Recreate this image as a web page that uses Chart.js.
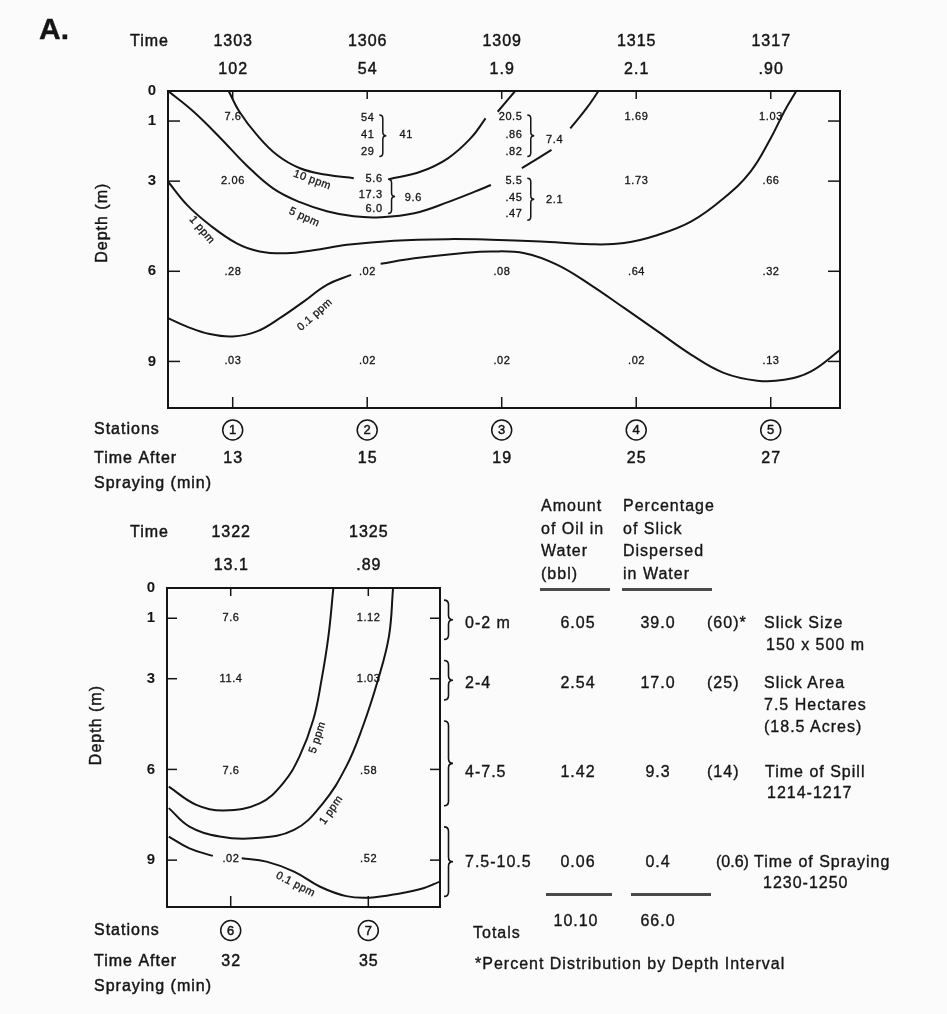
<!DOCTYPE html>
<html lang="en">
<head>
  <meta charset="UTF-8">
  <title>Dispersed oil concentrations by station and depth</title>
  <script src="https://cdn.jsdelivr.net/npm/chart.js"></script>
  <style>
    * { margin:0; padding:0; box-sizing:border-box; }
    html,body { width:947px; height:1014px; overflow:hidden; background:#fbfbfb; }
    canvas { position:absolute; left:0; top:0; }
    .t {
      position:absolute; white-space:nowrap; line-height:1;
      font:16px "Liberation Sans", Arial, sans-serif; letter-spacing:1px; color:#151515;
      -webkit-text-stroke:0.35px #151515;
    }
    .rule { position:absolute; height:3px; background:#4a4a4a; }
  </style>
</head>
<body>
  <canvas id="top" width="947" height="1014"></canvas>
  <canvas id="bottom" width="947" height="1014"></canvas>

  <script>
    // ---- data ----
    const depthTicks = [0, 1, 3, 6, 9];

    // upper panel, stations 1-5
    const topStations = [1, 2, 3, 4, 5];
    const topTimes = ['1303', '1306', '1309', '1315', '1317'];
    const topSurface = ['102', '54', '1.9', '2.1', '.90'];
    const topMinutes = ['13', '15', '19', '25', '27'];
    const topAt1 = ['7.6', '', '', '1.69', '1.03'];
    const topAt3 = ['2.06', '', '', '1.73', '.66'];
    const topAt6 = ['.28', '.02', '.08', '.64', '.32'];
    const topAt9 = ['.03', '.02', '.02', '.02', '.13'];
    const st2Upper = ['54', '41', '29'];
    const st2Lower = ['5.6', '17.3', '6.0'];
    const st3Upper = ['20.5', '.86', '.82'];
    const st3Lower = ['5.5', '.45', '.47'];
    const stackTotals = ['41', '9.6', '7.4', '2.1'];

    // contours (x = station, y = depth m), null = break in the line
    const top10x = [0.97, 1.05, 1.18, 1.33, 1.5, 1.7, 1.9, 2.0, 2.16, 2.4, 2.6, 2.77, 2.88, 2.92, 2.97, 3.1];
    const top10y = [0, 0.69, 1.46, 2.13, 2.57, 2.79, 2.9, null, 2.94, 2.68, 2.24, 1.57, 0.91, null, 0.69, 0];
    const top5x = [0.52, 0.71, 0.91, 1.1, 1.3, 1.5, 1.7, 1.9, 2.1, 2.35, 2.6, 2.8, 2.92, 3.0, 3.15, 3.37, 3.44, 3.51, 3.63, 3.72];
    const top5y = [0, 0.69, 1.57, 2.46, 3.24, 3.7, 4.0, 4.17, 4.2, 4.07, 3.7, 3.35, 3.13, null, 2.57, 1.96, null, 1.24, 0.58, 0];
    const top1x = [0.52, 0.66, 0.83, 1.03, 1.2, 1.4, 1.6, 1.85, 2.2, 2.6, 2.92, 3.29, 3.66, 3.91, 4.16, 4.41, 4.65, 4.85, 5.0, 5.1, 5.19];
    const top1y = [3.02, 3.79, 4.46, 5.07, 5.34, 5.4, 5.3, 5.12, 4.98, 4.93, 4.95, 5.01, 5.1, 5.06, 4.79, 4.34, 3.57, 2.68, 1.57, 0.69, 0];
    const top01x = [0.52, 0.66, 0.83, 1.0, 1.18, 1.35, 1.53, 1.7, 1.88, 1.99, 2.1, 2.35, 2.7, 2.92, 3.17, 3.41, 3.66, 3.91, 4.16, 4.41, 4.65, 4.9, 5.1, 5.3, 5.52];
    const top01y = [7.56, 7.84, 8.09, 8.17, 8.0, 7.56, 7.0, 6.45, 6.12, null, 5.75, 5.57, 5.4, 5.34, 5.4, 5.78, 6.45, 7.22, 8.0, 8.78, 9.38, 9.64, 9.61, 9.33, 8.6];

    // lower panel, stations 6-7
    const botStations = [6, 7];
    const botTimes = ['1322', '1325'];
    const botSurface = ['13.1', '.89'];
    const botMinutes = ['32', '35'];
    const botAt1 = ['7.6', '1.12'];
    const botAt3 = ['11.4', '1.03'];
    const botAt6 = ['7.6', '.58'];
    const botAt9 = ['.02', '.52'];
    const bot5x = [5.55, 5.75, 5.95, 6.21, 6.38, 6.5, 6.6, 6.66, 6.71, 6.746];
    const bot5y = [6.57, 7.17, 7.36, 7.12, 6.46, 5.57, 4.36, 3.04, 1.6, 0];
    const bot1x = [5.55, 5.7, 5.92, 6.16, 6.46, 6.67, 6.84, 6.96, 7.07, 7.15, 7.18];
    const bot1y = [7.28, 7.89, 8.22, 8.28, 8.0, 7.12, 5.9, 4.58, 3.04, 1.6, 0];
    const bot01x = [5.55, 5.7, 5.87, 5.95, 6.08, 6.26, 6.46, 6.65, 6.84, 7.01, 7.23, 7.4, 7.52];
    const bot01y = [8.22, 8.61, 8.86, null, 8.94, 9.05, 9.38, 9.88, 10.19, 10.24, 10.1, 9.93, 9.71];

    // table to the right of the lower panel
    const intervals = ['0-2 m', '2-4', '4-7.5', '7.5-10.5'];
    const intervalEdges = [[0, 2], [2, 4], [4, 7.5], [7.5, 10.5]];
    const oilBbl = ['6.05', '2.54', '1.42', '0.06'];
    const pctSlick = ['39.0', '17.0', '9.3', '0.4'];
    const pctDist = ['(60)*', '(25)', '(14)', '(0.6)'];
    const totals = ['10.10', '66.0'];

    const ink = '#151515';
    const FONT = '"Liberation Sans", Arial, sans-serif';
    const DEPTH_MAX = 10.55;

    const pts = (xs, ys) => xs.map((v, i) => ({ x: v, y: ys[i] }));

    function seg(ctx, x1, y1, x2, y2) {
      ctx.beginPath(); ctx.moveTo(x1, y1); ctx.lineTo(x2, y2); ctx.stroke();
    }
    function label(ctx, s, x, y, size, align = 'center', ls = 1) {
      ctx.font = size + 'px ' + FONT;
      ctx.letterSpacing = ls + 'px';
      ctx.textAlign = align; ctx.textBaseline = 'middle';
      const dx = align === 'center' ? ls / 2 : align === 'right' ? ls : 0;
      ctx.fillText(s, x + dx, y);
      // scanned type is a bit heavier than the clean font
      ctx.save();
      ctx.lineWidth = size > 12 ? 0.45 : 0.3;
      ctx.strokeText(s, x + dx, y);
      ctx.restore();
    }
    // right-facing curly brace, ends at x, tip at x + w
    function brace(ctx, x, y1, y2, w) {
      const m = (y1 + y2) / 2, h = w / 2;
      ctx.beginPath();
      ctx.moveTo(x, y1);
      ctx.quadraticCurveTo(x + h, y1, x + h, y1 + h);
      ctx.lineTo(x + h, m - h);
      ctx.quadraticCurveTo(x + h, m, x + w, m);
      ctx.quadraticCurveTo(x + h, m, x + h, m + h);
      ctx.lineTo(x + h, y2 - h);
      ctx.quadraticCurveTo(x + h, y2, x, y2);
      ctx.stroke();
    }

    const sheets = {
      top: {
        stations: topStations, times: topTimes, surface: topSurface, minutes: topMinutes,
        head: [49, 21], foot: [22, 51, 76], tick: 12, titleX: 103, titleD: 4.4,
        rows: [[0.85, topAt1], [3.0, topAt3], [6.02, topAt6], [8.98, topAt9]],
        stacks: [
          { vals: st2Upper, s: 2.05, d: [0.9, 1.46, 2.02], b: 2.09, b0: 0.8, b1: 2.18, t: stackTotals[0], ts: 2.24, td: 1.46 },
          { vals: st2Lower, s: 2.11, d: [2.94, 3.47, 3.93], b: 2.155, b0: 2.94, b1: 4.08, t: stackTotals[1], ts: 2.28, td: 3.55 },
          { vals: st3Upper, s: 3.15, d: [0.88, 1.46, 2.02], b: 3.19, b0: 0.8, b1: 2.18, t: stackTotals[2], ts: 3.33, td: 1.63 },
          { vals: st3Lower, s: 3.15, d: [3.0, 3.57, 4.1], b: 3.19, b0: 2.9, b1: 4.3, t: stackTotals[3], ts: 3.33, td: 3.62 }
        ],
        names: [
          { text: '10 ppm', s: 1.59, d: 2.96, r: 20 },
          { text: '5 ppm', s: 1.53, d: 4.2, r: 25 },
          { text: '1 ppm', s: 0.77, d: 4.62, r: 50 },
          { text: '0.1 ppm', s: 1.61, d: 7.45, r: -42 }
        ]
      },
      bottom: {
        stations: botStations, times: botTimes, surface: botSurface, minutes: botMinutes,
        head: [55, 22], foot: [23.5, 55, 79.5], tick: 10, titleX: 97, titleD: 4.55,
        rows: [[1.0, botAt1], [3.0, botAt3], [6.05, botAt6], [8.95, botAt9]],
        stacks: [],
        names: [
          { text: '5 ppm', s: 6.63, d: 4.95, r: -72 },
          { text: '1 ppm', s: 6.73, d: 7.35, r: -55 },
          { text: '0.1 ppm', s: 6.47, d: 9.8, r: 27 }
        ],
        braceX: 444
      }
    };

    const sheet = {
      id: 'sheet',
      afterDraw(chart) {
        const o = sheets[chart.canvas.id];
        const { ctx, chartArea: a } = chart;
        const X = v => chart.scales.x.getPixelForValue(v);
        const Y = v => chart.scales.y.getPixelForValue(v);
        ctx.save();
        ctx.strokeStyle = ink; ctx.fillStyle = ink;

        // frame and inward ticks
        ctx.lineWidth = 2;
        ctx.strokeRect(a.left, a.top, a.right - a.left, a.bottom - a.top);
        ctx.lineWidth = 1.5;
        depthTicks.slice(1).forEach(d => {
          seg(ctx, a.left, Y(d), a.left + o.tick, Y(d));
          seg(ctx, a.right - o.tick, Y(d), a.right, Y(d));
        });
        o.stations.forEach(s => {
          seg(ctx, X(s), a.top, X(s), a.top + 8);
          seg(ctx, X(s), a.bottom - 11, X(s), a.bottom);
        });

        // time / surface rows above
        label(ctx, 'Time', 149, a.top - o.head[0], 16);
        o.stations.forEach((s, i) => {
          label(ctx, o.times[i], X(s), a.top - o.head[0], 16);
          label(ctx, o.surface[i], X(s), a.top - o.head[1], 16);
        });

        // station rows below
        label(ctx, 'Stations', 94, a.bottom + o.foot[0], 16, 'left');
        label(ctx, 'Time After', 94, a.bottom + o.foot[1], 16, 'left');
        label(ctx, 'Spraying (min)', 94, a.bottom + o.foot[2], 16, 'left');
        o.stations.forEach((s, i) => {
          const cy = a.bottom + o.foot[0];
          ctx.lineWidth = 1.5;
          ctx.beginPath(); ctx.arc(X(s), cy, 10, 0, Math.PI * 2); ctx.stroke();
          label(ctx, String(s), X(s), cy + 0.5, 13, 'center', 0);
          label(ctx, o.minutes[i], X(s), a.bottom + o.foot[1], 16);
        });

        // axis title
        ctx.save();
        ctx.translate(o.titleX, Y(o.titleD));
        ctx.rotate(-Math.PI / 2);
        label(ctx, 'Depth (m)', 0, 0, 16);
        ctx.restore();

        // sample values
        o.rows.forEach(([d, vals]) => o.stations.forEach((s, i) => {
          if (vals[i]) label(ctx, vals[i], X(s), Y(d), 11, 'center', 0.6);
        }));
        o.stacks.forEach(k => {
          k.vals.forEach((v, i) => label(ctx, v, X(k.s), Y(k.d[i]), 11, 'right', 0.6));
          ctx.lineWidth = 1.5;
          brace(ctx, X(k.b), Y(k.b0), Y(k.b1), 7);
          label(ctx, k.t, X(k.ts), Y(k.td), 11, 'left', 0.6);
        });

        // contour names
        o.names.forEach(n => {
          ctx.save();
          ctx.translate(X(n.s), Y(n.d));
          ctx.rotate(n.r * Math.PI / 180);
          label(ctx, n.text, 0, 0, 11, 'center', 0.4);
          ctx.restore();
        });

        // depth-interval braces for the table
        if (o.braceX) {
          ctx.lineWidth = 1.6;
          intervalEdges.forEach(([d0, d1]) => brace(ctx, o.braceX, Y(d0 + 0.4), Y(d1 - 0.3), 9));
        }
        ctx.restore();
      }
    };

    function makeChart(id, lines, xMin, xMax, pad, axisW) {
      return new Chart(document.getElementById(id), {
        type: 'line',
        data: {
          datasets: lines.map(([xs, ys]) => ({
            data: pts(xs, ys), borderColor: ink, borderWidth: 2,
            pointRadius: 0, tension: 0.4, fill: false, spanGaps: false
          }))
        },
        options: {
          responsive: false, animation: false, events: [],
          layout: { padding: pad },
          plugins: { legend: { display: false }, tooltip: { enabled: false } },
          scales: {
            x: { type: 'linear', display: false, min: xMin, max: xMax },
            y: {
              type: 'linear', reverse: true, min: 0, max: DEPTH_MAX,
              afterFit: s => { s.width = axisW; },
              afterBuildTicks: s => { s.ticks = depthTicks.map(v => ({ value: v })); },
              grid: { display: false, drawTicks: false },
              border: { display: false },
              ticks: { color: ink, padding: 12, font: { size: 15, family: FONT, weight: 'bold' } }
            }
          }
        },
        plugins: [sheet]
      });
    }

    makeChart('top', [[top10x, top10y], [top5x, top5y], [top1x, top1y], [top01x, top01y]],
      0.519, 5.515, { top: 91, right: 107, bottom: 606, left: 0 }, 168);
    makeChart('bottom', [[bot5x, bot5y], [bot1x, bot1y], [bot01x, bot01y]],
      5.537, 7.521, { top: 588, right: 507, bottom: 107, left: 0 }, 167);

    // ---- text around the table ----
    function put(text, x, y, align, extra) {
      const d = document.createElement('div');
      d.className = 't';
      d.textContent = text;
      d.style.left = x + 'px';
      d.style.top = y + 'px';
      d.style.transform = align === 'center' ? 'translate(-50%,-50%)' : 'translateY(-50%)';
      if (extra) Object.assign(d.style, extra);
      document.body.appendChild(d);
    }
    function rule(x, y, w) {
      const r = document.createElement('div');
      r.className = 'rule';
      Object.assign(r.style, { left: x + 'px', top: y + 'px', width: w + 'px' });
      document.body.appendChild(r);
    }

    put('A.', 39, 29, 'left', { fontWeight: 'bold', fontSize: '30px', letterSpacing: '0' });

    ['Amount', 'of Oil in', 'Water', '(bbl)'].forEach((s, i) => put(s, 541, 506 + i * 22.7, 'left'));
    ['Percentage', 'of Slick', 'Dispersed', 'in Water'].forEach((s, i) => put(s, 623, 506 + i * 22.7, 'left'));
    rule(540, 588, 70);
    rule(622, 588, 90);

    const rowY = [623, 682.5, 771.5, 862];
    intervals.forEach((s, i) => {
      put(s, 465, rowY[i], 'left');
      put(oilBbl[i], 578, rowY[i], 'center');
      put(pctSlick[i], 658, rowY[i], 'center');
      if (i === 3) put(pctDist[i], 716, rowY[i], 'left', { letterSpacing: '0' });
      else put(pctDist[i], 707, rowY[i], 'left');
    });

    put('Slick Size', 764, 623, 'left');
    put('150 x 500 m', 766, 645, 'left');
    put('Slick Area', 764, 682.5, 'left');
    put('7.5 Hectares', 764, 705, 'left');
    put('(18.5 Acres)', 764, 727, 'left');
    put('Time of Spill', 765, 771.5, 'left');
    put('1214-1217', 767, 793, 'left');
    put('Time of Spraying', 754, 862, 'left');
    put('1230-1250', 763, 883, 'left');

    rule(546, 893, 66);
    rule(631, 893, 80);
    put('Totals', 473, 933, 'left');
    put(totals[0], 576, 921, 'center');
    put(totals[1], 658, 921, 'center');
    put('*Percent Distribution by Depth Interval', 475, 964, 'left');
  </script>
</body>
</html>
